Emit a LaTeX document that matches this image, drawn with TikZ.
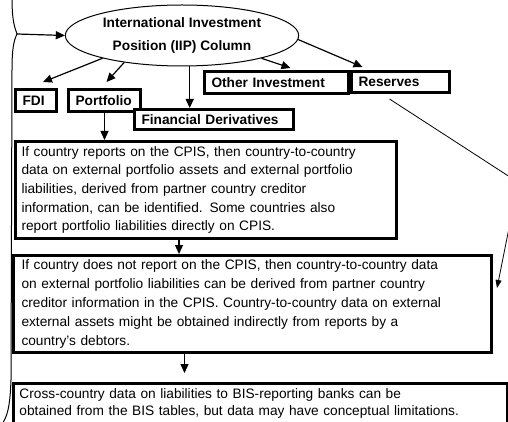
\documentclass[tikz,border=0pt]{standalone}
\usepackage{fontspec}
\setmainfont{Liberation Sans}
\usetikzlibrary{arrows.meta,positioning,shapes.geometric}

\begin{document}
\begin{tikzpicture}[
    x=1pt, y=-1pt,
    font=\fontsize{13.7}{18.6}\selectfont,
    box/.style={draw, line width=3pt, fill=white, align=left, inner ysep=0pt},
    catbox/.style={box, font=\fontsize{13.7}{16}\selectfont\bfseries, text width=#1, inner xsep=7pt, minimum height=22pt},
    iipshape/.style={draw, ellipse, line width=1pt, align=center, minimum width=228pt, minimum height=61pt, font=\fontsize{13.7}{23}\selectfont\bfseries},
    arrow/.style={-{Triangle[length=9pt, width=8pt]}, line width=1.2pt},
    thinarrow/.style={-{Triangle[length=8pt, width=6pt]}, line width=0.8pt},
    brace/.style={line width=1pt}
  ]
    \useasboundingbox (0,0) rectangle (508,422);
    \clip (0,0) rectangle (508,422);

    \node[iipshape] (iip) at (182,35.5) {International Investment\\Position (IIP) Column};

    \node[catbox=27pt, anchor=north west] (fdi) at (14,88) {FDI};
    \node[catbox=58pt, anchor=north west] (port) at (67,88) {Portfolio};
    \node[catbox=145pt, anchor=north west, minimum height=20pt] (fd) at (133,108) {Financial Derivatives};
    \node[catbox=130pt, anchor=north west] (oth) at (203,70) {Other Investment};
    \node[catbox=84pt, anchor=north west, minimum height=21pt] (res) at (350,70) {Reserves};

    \node[box, anchor=north west, inner xsep=6pt, text width=369pt, minimum height=97pt] (cpis) at (14,140)
      {If country reports on the CPIS, then country-to-country\\
       data on external portfolio assets and external portfolio\\
       liabilities, derived from partner country creditor\\
       information, can be identified. Some countries also\\
       report portfolio liabilities directly on CPIS.};
    \node[box, anchor=north west, inner xsep=8pt, text width=462pt, minimum height=97pt, font=\fontsize{13.7}{19.2}\selectfont] (nocpis) at (12,254)
      {If country does not report on the CPIS, then country-to-country data\\
       on external portfolio liabilities can be derived from partner country\\
       creditor information in the CPIS. Country-to-country data on external\\
       external assets might be obtained indirectly from reports by a\\
       country's debtors.};
    \node[box, anchor=north west, inner xsep=6pt, text width=482pt, minimum height=40pt, font=\fontsize{13.7}{17}\selectfont] (bis) at (12,382)
      {Cross-country data on liabilities to BIS-reporting banks can be\\
       obtained from the BIS tables, but data may have conceptual limitations.};

    % brace on the left
    \coordinate (tip) at (17,34);
    \draw[brace] (12,-2) .. controls (12,22) and (15,28) .. (tip)
      .. controls (14,40) and (12,48) .. (12,70) -- (11,380)
      .. controls (10,408) and (7,417) .. (2,424);
    \draw[arrow] (tip) -- (iip.west);

    % from the IIP column
    \draw[arrow] (iip.196) -- ([xshift=7pt,yshift=6pt]fdi.north);
    \draw[arrow] (iip.205) -- ([xshift=2pt,yshift=6pt]port.north);
    \draw[arrow] (iip.284) -- (iip.284 |- fd.north);
    \draw[arrow] (iip.344) -- ([xshift=14pt,yshift=2pt]oth.north);
    \draw[arrow] (iip.358) -- ([xshift=-38pt,yshift=3pt]res.north);

    % down the chain
    \draw[arrow] (port.south) -- (port.south |- cpis.north);
    \draw[arrow] ([xshift=-27pt]cpis.south) -- ([xshift=-27pt]cpis.south |- nocpis.north);
    \draw[arrow, shorten >=9pt] ([xshift=-68pt]nocpis.south) -- ([xshift=-68pt]nocpis.south |- bis.north);
    \draw[thinarrow] ([xshift=-11pt,yshift=-5pt]res.south) -- (513,179) -- (513,208) -- ([xshift=4pt,yshift=16pt]nocpis.east);
\end{tikzpicture}
\end{document}
